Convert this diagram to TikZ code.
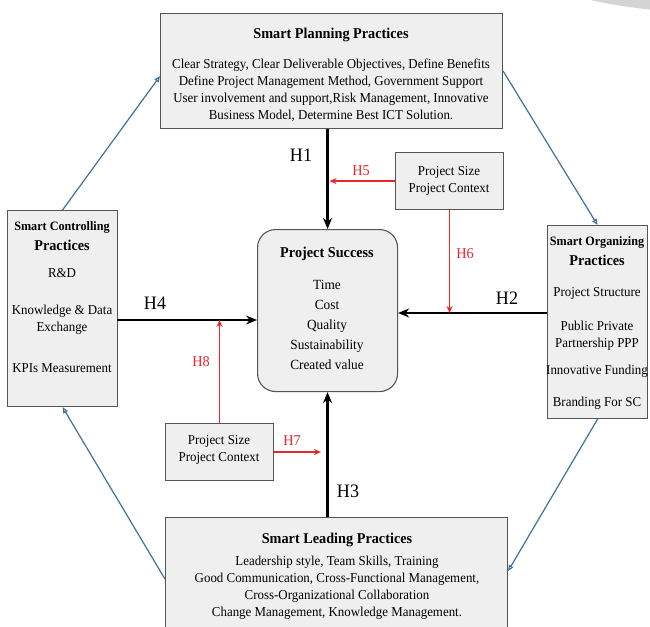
\documentclass[tikz,border=0pt]{standalone}
\usepackage{fontspec}
\setmainfont{Liberation Serif}[FakeStretch=0.95]
\usetikzlibrary{arrows.meta,calc}
\definecolor{boxfill}{HTML}{EFEFEF}
\definecolor{boxline}{HTML}{555555}
\definecolor{blueline}{HTML}{41719C}
\definecolor{redline}{HTML}{E8262A}
\definecolor{arcgrey}{HTML}{D4D4D4}
\tikzset{
  box/.style={draw=boxline, line width=1.1pt, fill=boxfill, inner sep=0pt, anchor=north west},
  txt/.style={align=center, inner sep=0pt, font=\fontsize{13.6}{17}\selectfont},
  ttl/.style={align=center, inner sep=0pt, font=\fontsize{15}{17}\selectfont\bfseries},
  sttl/.style={align=center, inner sep=0pt, font=\fontsize{12.8}{15}\selectfont\bfseries},
  harrow/.style={line width=2.6pt, -{Stealth[length=11pt,width=9pt]}},
  rarrow/.style={draw=redline, line width=1.4pt, -{Stealth[length=7pt,width=6pt]}},
  barrow/.style={draw=blueline, line width=1.2pt, -{Triangle[open,length=6pt,width=5pt]}},
  hlab/.style={inner sep=0pt, font=\fontsize{19}{19}\selectfont},
  rlab/.style={inner sep=0pt, text=redline, font=\fontsize{15}{15}\selectfont},
}
\begin{document}
\begin{tikzpicture}[x=1pt,y=-1pt]
\useasboundingbox (0,0) rectangle (650,626);
\clip (0,0) rectangle (650,626);
\fill[white] (0,0) rectangle (650,626);
\fill[arcgrey] (700,-488) circle (500);

% boxes
\node[box, minimum width=342pt, minimum height=115pt] (plan) at (160,13) {};
\node[box, minimum width=110pt, minimum height=196pt] (ctrl) at (7,210) {};
\node[box, minimum width=100pt, minimum height=193pt] (org) at (547,225) {};
\node[box, minimum width=342pt, minimum height=123pt] (lead) at (165,517) {};
\node[box, rounded corners=18pt, minimum width=140pt, minimum height=162pt] (succ) at (257,229) {};
\node[box, minimum width=108pt, minimum height=57pt] (szA) at (395,152) {};
\node[box, minimum width=108pt, minimum height=57pt] (szB) at (165,423) {};

% texts
\node[ttl] (planT) at (331,35) {Smart Planning Practices};
\node[txt] (planB) at (331,90) {Clear Strategy, Clear Deliverable Objectives, Define Benefits\\Define Project Management Method, Government Support\\User involvement and support,Risk Management, Innovative\\Business Model, Determine Best ICT Solution.};

\node[sttl] (ctrlT1) at (62,227) {Smart Controlling};
\node[ttl] (ctrlT2) at (62,245) {Practices};
\node[txt] (ctrlA) at (62,273) {R\&D};
\node[txt] (ctrlB) at (62,320) {Knowledge \& Data\\Exchange};
\node[txt] (ctrlC) at (62,368) {KPIs Measurement};

\node[sttl] (orgT1) at (597,242) {Smart Organizing};
\node[ttl] (orgT2) at (597,260) {Practices};
\node[txt] (orgA) at (597,293) {Project Structure};
\node[txt] (orgB) at (597,336) {Public Private\\Partnership PPP};
\node[txt] (orgC) at (597,371) {Innovative Funding};
\node[txt] (orgD) at (597,403) {Branding For SC};

\node[ttl] (leadT) at (337,540) {Smart Leading Practices};
\node[txt] (leadB) at (337,588) {Leadership style, Team Skills, Training\\Good Communication, Cross-Functional Management,\\Cross-Organizational Collaboration\\Change Management, Knowledge Management.};

\node[ttl] (succT) at (327,254) {Project Success};
\node[txt, font=\fontsize{14}{19.8}\selectfont] (succB) at (327,325) {Time\\Cost\\Quality\\Sustainability\\Created value};

\node[txt] (szAT) at (449,181) {Project Size\\Project Context};
\node[txt] (szBT) at (219,450) {Project Size\\Project Context};

% coordinates
\coordinate (h2) at (547,313);
\coordinate (h4) at (117,320);
\coordinate (h7end) at (321,452);

% black arrows
\draw[harrow] (succ.north |- plan.south) -- (succ.north);
\draw[harrow] (succ.south |- lead.north) -- (succ.south);
\draw[harrow] (h2) -- (h2 -| succ.east);
\draw[harrow] (h4) -- (h4 -| succ.west);

% red arrows
\draw[rarrow] (szA.west) -- ([xshift=2pt]szA.west -| succ.north);
\draw[rarrow] (szA.south) -- (szA.south |- h2);
\draw[rarrow] (szB.north) -- (szB.north |- h4);
\draw[rarrow] (szB.east) -- (szB.east -| h7end);

% blue cycle
\draw[barrow] (ctrl.north) -- ([yshift=-5pt]plan.west);
\draw[barrow] (plan.east) -- (org.north);
\draw[barrow] (org.south) -- ([yshift=8pt]lead.east);
\draw[barrow] (lead.west) -- (ctrl.south);

% labels
\node[hlab] (l1) at (301,155) {H1};
\node[hlab] (l2) at (507,298) {H2};
\node[hlab] (l3) at (348,491) {H3};
\node[hlab] (l4) at (155,303) {H4};
\node[rlab] (l5) at (361,171) {H5};
\node[rlab] (l6) at (465,254) {H6};
\node[rlab] (l7) at (292,441) {H7};
\node[rlab] (l8) at (201,362) {H8};
\end{tikzpicture}
\end{document}
